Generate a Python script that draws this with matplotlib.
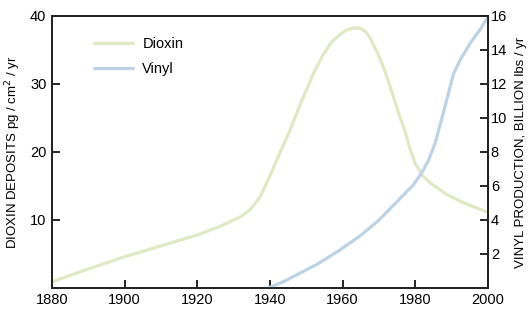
import matplotlib
matplotlib.use("Agg")
import matplotlib.pyplot as plt

# === data ===
dioxin_years = [1880, 1890, 1900, 1910, 1920, 1926, 1932, 1934.5, 1937.3, 1940, 1942, 1945.5,
                1948.3, 1952, 1954.7, 1957, 1959.3, 1961, 1962.5, 1964, 1965.2, 1966.5,
                1967.5, 1969.8, 1971.7, 1973.5, 1975.3, 1977.2, 1978.5, 1979.9, 1981.8,
                1984, 1988.5, 1993, 2000]
dioxin_vals = [0.9, 2.8, 4.6, 6.2, 7.8, 9.0, 10.5, 11.5, 13.4, 16.5, 19.0, 23.2,
               27.0, 31.6, 34.4, 36.2, 37.3, 37.9, 38.2, 38.25, 38.1, 37.6,
               36.8, 34.3, 31.8, 28.9, 25.9, 23.0, 20.5, 18.4, 16.6,
               15.5, 13.8, 12.6, 11.1]

vinyl_years = [1939.5, 1944, 1948, 1953, 1959, 1965, 1970, 1975.5, 1979.4, 1981.7,
               1983.6, 1985.4, 1987.2, 1989.1, 1990.5, 1992.3, 1995.1, 1997.8, 2000]
vinyl_vals = [0.0, 0.4, 0.85, 1.4, 2.2, 3.1, 4.0, 5.2, 6.05, 6.75,
              7.5, 8.5, 9.9, 11.45, 12.6, 13.4, 14.4, 15.2, 15.95]

left_ticks = [10, 20, 30, 40]
right_ticks = [2, 4, 6, 8, 10, 12, 14, 16]
x_ticks = [1880, 1900, 1920, 1940, 1960, 1980, 2000]

plt.rcParams['font.family'] = ['Liberation Sans Narrow', 'Liberation Sans', 'DejaVu Sans']

fig = plt.figure(figsize=(5.29, 3.10), dpi=100)
ax = fig.add_axes([0.0983, 0.071, 0.8242, 0.8774])
ax2 = ax.twinx()

dioxin_color = '#dfe9c3'
vinyl_color = '#bcd3e6'

l1, = ax.plot(dioxin_years, dioxin_vals, color=dioxin_color, lw=2.3,
              solid_capstyle='butt', label='Dioxin')
l2, = ax2.plot(vinyl_years, vinyl_vals, color=vinyl_color, lw=2.3,
               solid_capstyle='butt', label='Vinyl')

ax.set_xlim(1880, 2000)
ax.set_ylim(0, 40)
ax2.set_ylim(0, 16)
ax.set_xticks(x_ticks)
ax.set_yticks(left_ticks)
ax2.set_yticks(right_ticks)

for a in (ax, ax2):
    for s in a.spines.values():
        s.set_linewidth(1.3)
        s.set_color('#222222')
    a.tick_params(direction='in', length=6, width=1.2, labelsize=10.5, colors='black')
ax.tick_params(axis='x', pad=3.5)
ax.tick_params(axis='y', pad=4)
ax2.tick_params(axis='y', pad=2)

ax.set_ylabel('DIOXIN DEPOSITS pg / cm$^2$ / yr', fontsize=9.5, labelpad=5)
ax2.set_ylabel('VINYL PRODUCTION, BILLION lbs / yr', fontsize=9.5, labelpad=6)

ax.legend([l1, l2], ['Dioxin', 'Vinyl'], loc='upper left', bbox_to_anchor=(0.065, 0.97),
          frameon=False, fontsize=10.5, handlelength=2.8, handletextpad=0.55,
          labelspacing=0.75)

fig.savefig('out.png', dpi=100)
